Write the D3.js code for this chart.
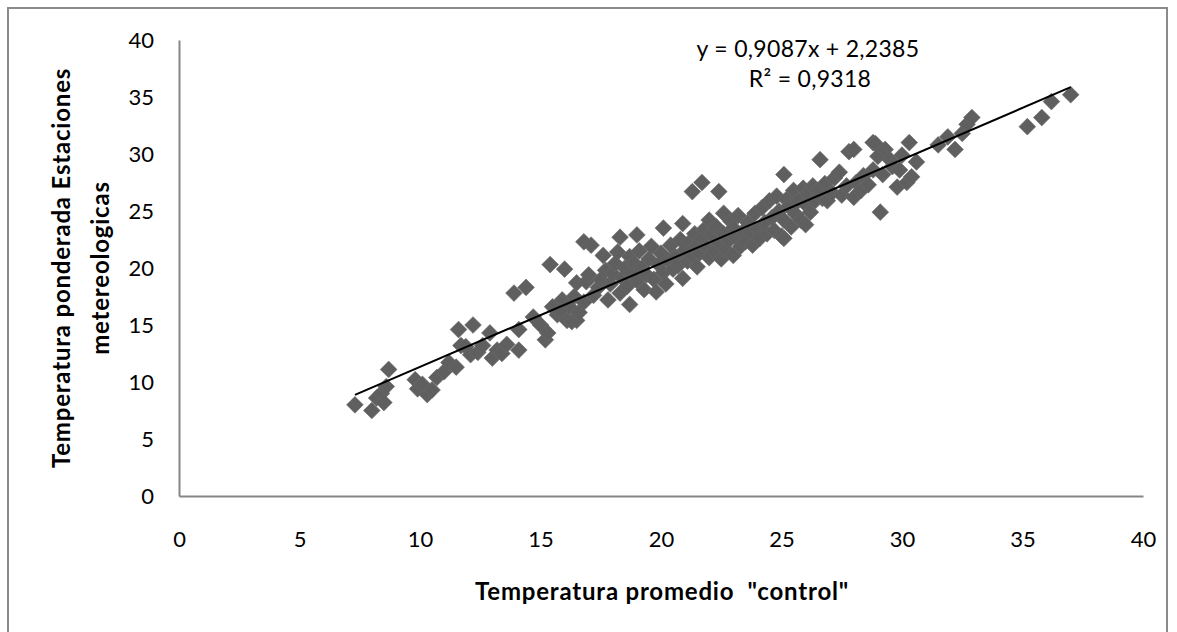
<!DOCTYPE html>
<html>
<head>
<meta charset="utf-8">
<script src="https://cdn.jsdelivr.net/npm/d3@7"></script>
<style>
  body { margin: 0; background: #fff; }
  text { font-family: Lato, "Noto Sans", sans-serif; fill: #000; }
</style>
</head>
<body>
<svg id="chart" width="1177" height="632"></svg>
<script>
// Temperatura promedio "control" (x) and the weighted station temperature (y) for each observation
const controlTemp = [
  7.3, 8.0, 8.2, 8.4, 8.6, 8.7, 8.5, 9.8, 9.9, 10.1, 10.3, 10.5, 10.7, 11.0,
  11.2, 11.5, 11.6, 11.7, 11.9, 12.2, 12.1, 12.4, 12.6, 12.9, 13.0, 13.2, 13.4, 13.6, 13.9, 14.1, 14.1, 14.4,
  14.7, 15.0, 15.2, 15.3, 15.4, 15.5, 15.7, 15.9, 16.0, 16.1, 16.3, 16.5, 16.2, 15.8, 16.4, 16.6, 16.8, 16.5,
  16.8, 17.1, 17.6, 16.9, 17.0, 17.2, 17.4, 17.5, 17.7, 17.8, 17.9, 18.0, 18.1, 18.2, 18.3, 18.3, 18.4, 18.5,
  18.6, 18.7, 18.7, 18.8, 18.9, 19.0, 19.0, 19.1, 19.2, 19.3, 19.4, 19.5,
  19.6, 19.7, 19.8, 19.9, 20.0, 20.1, 20.1, 20.2, 20.3, 20.4, 20.5, 20.6, 20.7, 20.8, 20.9, 20.9, 21.0, 21.1,
  21.2, 21.3, 21.3, 21.4, 21.5, 21.5,
  21.7, 21.6, 21.7, 21.8, 21.9, 22.0, 22.0, 22.1, 22.2, 22.3, 22.4, 22.4, 22.5, 22.6, 22.6, 22.7, 22.8, 22.9,
  23.0, 23.0, 23.1, 23.2, 23.3, 23.4, 23.5, 23.6, 23.7, 23.8, 23.9, 24.0,
  24.1, 24.2, 24.3, 24.4, 24.5, 24.6, 24.7, 24.8, 24.9, 25.0, 25.1, 25.1, 25.1, 25.2, 25.3, 25.4, 25.5, 25.6,
  25.7, 25.8, 25.9, 26.0, 26.0, 26.1, 26.2, 26.3, 26.4, 26.6, 26.5, 26.7, 26.8, 26.9,
  27.1, 27.2, 27.4, 27.5, 27.8, 27.7, 28.0, 28.0, 28.1, 28.3, 28.4, 28.6, 28.8, 28.9, 28.8, 29.0, 29.1, 29.2,
  29.3, 29.5, 29.6, 29.8, 29.9, 30.0, 30.2, 30.3, 30.4, 30.6,
  31.5, 31.9, 32.2, 32.5, 32.7, 32.9, 35.2, 35.8, 36.2, 37.0
];
const stationTemp = [
  8.0, 7.5, 8.6, 9.0, 9.6, 11.1, 8.2, 10.2, 9.4, 9.8, 8.9, 9.3, 10.4, 10.9,
  11.7, 11.3, 14.6, 13.2, 13.1, 15.0, 12.4, 12.6, 13.2, 14.3, 12.1, 12.8, 12.5, 13.3, 17.8, 12.8, 14.6, 18.3,
  15.7, 15.0, 13.7, 14.3, 20.3, 16.6, 15.9, 17.2, 19.9, 15.4, 15.3, 15.4, 16.6, 16.2, 17.5, 16.1, 17.0, 18.7,
  22.3, 22.0, 21.1, 18.8, 19.4, 17.6, 18.3, 19.0, 19.8, 17.2, 18.6, 19.5, 20.4, 21.4, 22.7, 17.8, 19.1, 20.0,
  18.4, 16.8, 21.0, 19.6, 20.4, 22.9, 18.9, 21.5, 20.0, 18.1, 19.4, 20.8,
  21.9, 19.0, 17.9, 20.3, 21.3, 23.5, 19.6, 18.6, 20.7, 22.0, 19.9, 21.0, 20.2, 22.5, 19.1, 23.9, 21.6, 20.6,
  22.3, 26.7, 21.0, 23.0, 20.1, 22.0,
  27.5, 21.3, 22.6, 23.4, 21.8, 20.9, 24.2, 22.9, 21.5, 23.6, 26.7, 22.2, 20.8, 24.8, 23.0, 21.6, 22.4, 24.1,
  21.1, 23.5, 22.7, 24.6, 21.9, 23.2, 22.3, 24.0, 23.1, 22.0, 24.8, 23.4,
  22.6, 25.3, 24.0, 23.0, 25.9, 24.4, 23.3, 26.3, 25.0, 22.8, 28.2, 22.6, 24.2, 26.0, 25.4, 23.6, 26.8, 24.7,
  25.9, 24.2, 27.0, 23.8, 25.6, 26.5, 24.9, 27.2, 25.9, 29.5, 26.8, 26.1, 27.4, 25.9,
  26.6, 27.9, 28.4, 26.4, 30.2, 27.2, 30.4, 26.2, 27.5, 26.8, 28.1, 27.3, 31.0, 30.9, 28.6, 29.8, 24.9, 28.2,
  30.4, 29.5, 28.9, 27.1, 28.6, 29.9, 27.5, 31.0, 28.0, 29.3,
  30.8, 31.5, 30.4, 31.8, 32.6, 33.2, 32.4, 33.2, 34.6, 35.2
];

// Axis ticks
const xTicks = [0, 5, 10, 15, 20, 25, 30, 35, 40];
const yTicks = [0, 5, 10, 15, 20, 25, 30, 35, 40];

// Linear trend: slope, intercept, and coefficient of determination
const trendCoefficients = [0.9087, 2.2385];
const rSquared = [0.9318];

const xTitle = 'Temperatura promedio  "control"';
const yTitleLines = ["Temperatura ponderada Estaciones", "metereologicas"];

const svg = d3.select("#chart");

// Outer chart frame
svg.append("rect")
  .attr("x", 8).attr("y", 8)
  .attr("width", 1159).attr("height", 640)
  .attr("fill", "#fff")
  .attr("stroke", "#8a8a8a")
  .attr("stroke-width", 2);

const x = d3.scaleLinear().domain([0, 40]).range([179, 1143]);
const y = d3.scaleLinear().domain([0, 40]).range([496, 40]);

const axisColor = "#868686";

const xAxis = svg.append("g")
  .attr("transform", `translate(0,${y(0)})`)
  .call(d3.axisBottom(x).tickValues(xTicks).tickSize(0).tickSizeOuter(0).tickPadding(35));
xAxis.select(".domain").attr("stroke", axisColor).attr("stroke-width", 2);
xAxis.selectAll("text")
  .style("font-family", "Lato, sans-serif")
  .attr("font-size", 22);

const yAxis = svg.append("g")
  .attr("transform", `translate(${x(0)},0)`)
  .call(d3.axisLeft(y).tickValues(yTicks).tickSize(0).tickSizeOuter(0).tickPadding(25));
yAxis.select(".domain").attr("stroke", axisColor).attr("stroke-width", 2);
yAxis.selectAll("text")
  .style("font-family", "Lato, sans-serif")
  .attr("font-size", 22);

// Data points as diamonds
const points = controlTemp.map((v, i) => ({ cx: v, cy: stationTemp[i] }));
const diamond = d3.symbol().type(d3.symbolSquare).size(140);

svg.append("g")
  .selectAll("path")
  .data(points)
  .join("path")
  .attr("d", diamond)
  .attr("transform", d => `translate(${x(d.cx)},${y(d.cy)}) rotate(45)`)
  .attr("fill", "#5f5f5f")
  .attr("stroke", "#6a6a6a")
  .attr("stroke-width", 0.6);

// Trend line over the data range
const [slope, intercept] = trendCoefficients;
const xMin = d3.min(controlTemp), xMax = d3.max(controlTemp);
svg.append("line")
  .attr("x1", x(xMin)).attr("y1", y(slope * xMin + intercept))
  .attr("x2", x(xMax)).attr("y2", y(slope * xMax + intercept))
  .attr("stroke", "#000")
  .attr("stroke-width", 2);

// Equation label
const fmt = v => String(v).replace(".", ",");
const eq = svg.append("text")
  .attr("text-anchor", "middle")
  .attr("font-size", 23)
  .attr("letter-spacing", 0.3);
eq.append("tspan").attr("x", 808).attr("y", 57)
  .text(`y = ${fmt(slope)}x + ${fmt(intercept)}`);
eq.append("tspan").attr("x", 810).attr("y", 87)
  .text(`R² = ${fmt(rSquared[0])}`);

// Axis titles
svg.append("text")
  .attr("x", 662).attr("y", 600)
  .attr("text-anchor", "middle")
  .attr("font-size", 24)
  .attr("font-weight", "bold")
  .attr("letter-spacing", 0.8)
  .style("white-space", "pre")
  .text(xTitle);

const yTitle = svg.append("text")
  .attr("transform", "translate(0,268) rotate(-90)")
  .attr("text-anchor", "middle")
  .attr("font-size", 24)
  .attr("font-weight", "bold")
  .attr("letter-spacing", 0.8);
yTitle.selectAll("tspan")
  .data(yTitleLines)
  .join("tspan")
  .attr("x", 0)
  .attr("y", (d, i) => 70 + i * 39)
  .text(d => d);
</script>
</body>
</html>
